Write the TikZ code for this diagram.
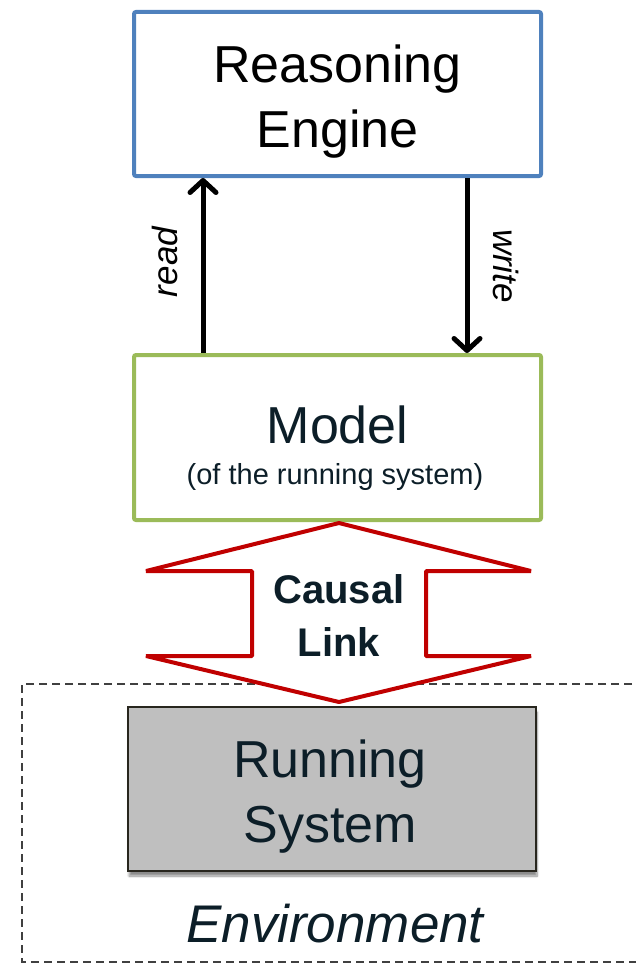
\documentclass[tikz,border=0pt]{standalone}
\usepackage{fontspec}
\setmainfont{Liberation Sans}
\usetikzlibrary{arrows.meta,shadows.blur}
\definecolor{reblue}{RGB}{79,129,189}
\definecolor{mgreen}{RGB}{155,187,89}
\definecolor{clred}{RGB}{192,0,0}
\definecolor{ink}{RGB}{12,30,40}
\definecolor{sysgray}{RGB}{191,191,191}
\definecolor{sysedge}{RGB}{40,38,30}
\begin{document}
\begin{tikzpicture}[x=1pt,y=-1pt,
  frame/.style={draw, line width=4pt, rounded corners=2pt, fill=white,
    minimum width=407pt, minimum height=165pt, inner sep=0pt},
  bigtext/.style={font=\fontsize{52}{65}\selectfont, align=center, inner sep=0pt},
  conn/.style={line width=5pt, -{Straight Barb[length=12pt,width=26pt,line width=5pt,round]}},
  edgelabel/.style={font=\fontsize{35}{42}\selectfont\itshape, inner sep=0pt},
]
\useasboundingbox (0,0) rectangle (635,963);

% environment boundary (open to the right)
\draw[dashed, dash pattern=on 8pt off 5pt, line width=1.3pt, draw=black!75]
  (645,684) -- (22,684) -- (22,962) -- (645,962);

% reasoning engine
\node[frame, draw=reblue, minimum height=164pt] (re) at (337.5,94) {};
\node[bigtext] (retext) at (337.5,101.5) {Reasoning\\Engine};

% model of the running system
\node[frame, draw=mgreen] (model) at (337.5,437.5) {};
\node[bigtext, text=ink, anchor=base] (modeltext) at (337.5,443) {Model};
\node[font=\fontsize{29}{34}\selectfont, text=ink, inner sep=0pt, anchor=base]
  (modelsub) at (335,484) {(of the running system)};

% read / write connectors
\coordinate (rx) at (203,265);
\coordinate (wx) at (467,265);
\draw[conn] (rx |- model.north) -- (rx |- re.south);
\draw[conn] (wx |- re.south) -- (wx |- model.north);
\node[edgelabel, rotate=90] (readlbl) at (165,262) {read};
\node[edgelabel, rotate=-90] (writelbl) at (506,266) {write};

% causal link double arrow
\draw[draw=clred, fill=white, line width=4pt, line join=bevel]
  (339,523) -- (531,571) -- (426,571) -- (426,656) -- (531,656)
  -- (339,702) -- (146,656) -- (252,656) -- (252,571) -- (146,571) -- cycle;
\node[font=\fontsize{40}{53}\selectfont\bfseries, text=ink, align=center, inner sep=0pt]
  (causal) at (339,615) {Causal\\Link};

% running system
\node[draw=sysedge, line width=2pt, fill=sysgray,
  minimum width=408pt, minimum height=164pt, inner sep=0pt,
  blur shadow={shadow xshift=1pt, shadow yshift=-5pt, shadow blur steps=8, shadow opacity=45}]
  (sys) at (332,789) {};
\node[bigtext, text=ink] (systext) at (330,796.5) {Running\\System};

% environment label
\node[font=\fontsize{53}{64}\selectfont\itshape, text=ink, inner sep=0pt, anchor=base]
  (envlbl) at (335,942) {Environment};
\end{tikzpicture}
\end{document}
